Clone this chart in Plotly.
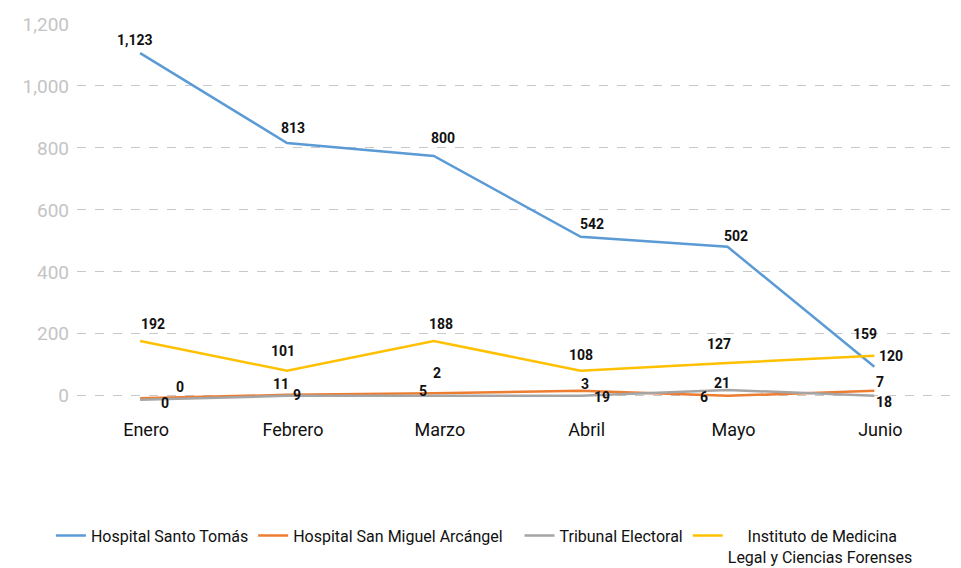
import plotly.graph_objs as go

meses = ['Enero', 'Febrero', 'Marzo', 'Abril', 'Mayo', 'Junio']

# posiciones dibujadas y etiquetas mostradas
santo_tomas = [1106, 816, 774, 513, 481, 94]
santo_tomas_lbl = ['1,123', '813', '800', '542', '502', '159']

san_miguel = [-8, 3, 8, 16, 0, 16]
san_miguel_lbl = ['0', '11', '2', '3', '6', '7']

tribunal = [-13, 0, 0, 0, 19, 0]
tribunal_lbl = ['0', '9', '5', '19', '21', '18']

medicina_legal = [177, 81, 177, 81, 106, 129]
medicina_legal_lbl = ['192', '101', '188', '108', '127', '120']

yticks = [0, 200, 400, 600, 800, 1000, 1200]
ytick_text = ['0', '200', '400', '600', '800', '1,000', '1,200']

series = [
    ('Hospital Santo Tomás', santo_tomas, santo_tomas_lbl, '#5b9bd5'),
    ('Hospital San Miguel Arcángel&nbsp;&nbsp;&nbsp;', san_miguel, san_miguel_lbl, '#ed7d31'),
    ('Tribunal Electoral', tribunal, tribunal_lbl, '#a5a5a5'),
    ('&nbsp;&nbsp;&nbsp;&nbsp;&nbsp;Instituto de Medicina<br>Legal y Ciencias Forenses', medicina_legal, medicina_legal_lbl, '#ffc000'),
]

# desplazamientos (px) de cada etiqueta respecto a su punto
shifts = [
    [(-5, 13), (6, 15), (9, 18), (11, 13), (8, 11), (-9, 33)],
    [(40, 11), (-6, 11), (3, 20), (4, 7), (-24, -1), (6, 9)],
    [(25, -3), (10, 1), (-11, 5), (21, -1), (-6, 7), (10, -6)],
    [(13, 17), (-4, 20), (7, 17), (0, 16), (-9, 19), (17, 0)],
]

traces = []
for name, vals, lbls, color in series:
    traces.append(go.Scatter(
        x=meses,
        y=vals,
        mode='lines',
        name=name,
        line=dict(color=color, width=2.5),
    ))

annotations = []
for (name, vals, lbls, color), sh in zip(series, shifts):
    for m, v, t, (dx, dy) in zip(meses, vals, lbls, sh):
        annotations.append(dict(
            x=m, y=v, text='<b>' + t + '</b>', showarrow=False,
            xshift=dx, yshift=dy,
            font=dict(family='Roboto', size=14, color='#111111'),
        ))

# the page body has an 8px margin, so the figure is 8px smaller
layout = go.Layout(
    width=953,
    height=560,
    margin=dict(l=69, r=0, t=16, b=166),
    plot_bgcolor='white',
    paper_bgcolor='white',
    font=dict(family='Roboto', color='#222222'),
    xaxis=dict(
        range=[-0.43, 5.59],
        showgrid=False,
        zeroline=False,
        showline=False,
        ticks='',
        automargin=False,
        ticklabelstandoff=15,
        ticklabelshift=6,
        tickfont=dict(size=18, color='#111111'),
    ),
    yaxis=dict(
        range=[-20, 1200],
        tickvals=yticks,
        ticktext=ytick_text,
        showgrid=True,
        gridcolor='#c8c8c8',
        griddash='dash',
        gridwidth=1,
        zeroline=False,
        ticks='',
        automargin=False,
        ticklabelstandoff=7,
        tickfont=dict(size=19, color='#c4c4c4'),
    ),
    showlegend=True,
    legend=dict(
        orientation='h',
        xref='container', yref='container',
        x=0.045, y=0.088,
        xanchor='left', yanchor='top',
        valign='top',
        font=dict(size=16, color='#111111'),
        itemwidth=30,
    ),
    annotations=annotations,
)

fig = go.Figure(data=traces, layout=layout)
fig.write_html("out.html")
